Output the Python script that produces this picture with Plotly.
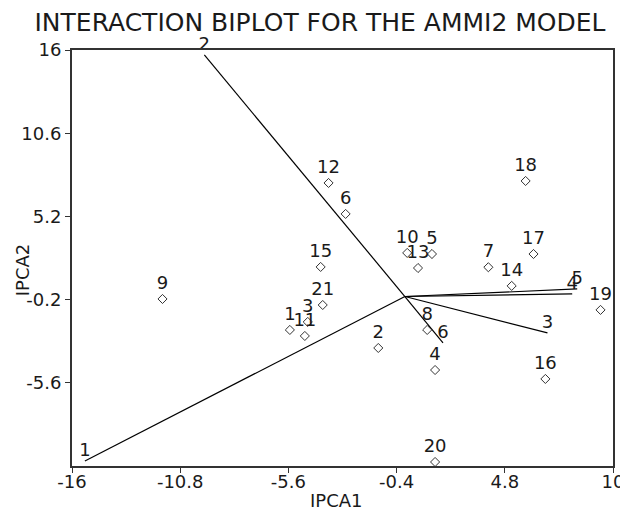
import plotly.graph_objects as go

# Environment vectors (IPCA1, IPCA2 end points)
env_labels = ["1", "2", "3", "4", "5", "6"]
env_ipca1 = [-15.38, -9.64, 6.85, 8.04, 8.28, 1.83]
env_ipca2 = [-10.67, 15.68, -2.36, 0.17, 0.49, -3.01]

# Genotype scores
gen_labels = [str(i) for i in range(1, 22)]
gen_ipca1 = [-5.53, -1.28, -4.67, 1.45, 1.30, -2.85, 4.01, 1.07, -11.65, 0.11,
             -4.81, -3.67, 0.63, 5.13, -4.05, 6.75, 6.18, 5.80, 9.40, 1.45, -3.95]
gen_ipca2 = [-2.17, -3.34, -1.65, -4.77, 2.76, 5.36, 1.90, -2.17, -0.16, 2.83,
             -2.56, 7.37, 1.85, 0.69, 1.92, -5.35, 2.76, 7.50, -0.87, -10.74, -0.55]

x_ticks = [-16, -10.8, -5.6, -0.4, 4.8, 10]
y_ticks = [-5.6, -0.2, 5.2, 10.6, 16]

FONT = "DejaVu Sans, Verdana, sans-serif"
INK = "#1a1a1a"

fig = go.Figure()

# vectors from origin
for ex, ey in zip(env_ipca1, env_ipca2):
    fig.add_trace(go.Scatter(x=[0, ex], y=[0, ey], mode="lines",
                             line=dict(color="black", width=1.2),
                             hoverinfo="skip", showlegend=False))

fig.add_trace(go.Scatter(x=env_ipca1, y=env_ipca2, mode="text", text=env_labels,
                         textposition="top center",
                         textfont=dict(family=FONT, size=18, color=INK),
                         showlegend=False, cliponaxis=False))

fig.add_trace(go.Scatter(x=gen_ipca1, y=gen_ipca2, mode="markers+text",
                         text=gen_labels, textposition="top center",
                         marker=dict(symbol="diamond-open", size=7,
                                     color="#333333", line=dict(width=1)),
                         textfont=dict(family=FONT, size=18, color=INK),
                         showlegend=False, cliponaxis=False))

axis_common = dict(showgrid=False, zeroline=False, showline=True, mirror=True,
                   linecolor="#333333", linewidth=2, ticks="outside", ticklen=5,
                   tickcolor="#333333",
                   tickfont=dict(family=FONT, size=18, color=INK))

fig.update_xaxes(range=[-16, 10], tickvals=x_ticks, ticklabelstandoff=-7,
                 ticktext=[f"{v:g}" for v in x_ticks], **axis_common)
fig.update_yaxes(range=[-11, 16], tickvals=y_ticks,
                 ticktext=[f"{v:g}" for v in y_ticks], **axis_common)

# the page body adds an 8px offset; margins compensate so the plot lands at
# x 72..616, y 50..466 in the window
fig.update_layout(
    width=628, height=512,
    margin=dict(l=64, r=20, t=42, b=54),
    plot_bgcolor="white", paper_bgcolor="white",
    title=dict(text="INTERACTION BIPLOT FOR THE AMMI2 MODEL",
               font=dict(family=FONT, size=25, color=INK),
               x=(320 - 8) / 628, xanchor="center", xref="container",
               y=1 - 14 / 512, yanchor="middle", yref="container"),
    annotations=[
        dict(text="IPCA1", xref="paper", yref="paper", x=(338 - 72) / 544,
             y=-(500 - 466) / 416, showarrow=False, xanchor="center",
             yanchor="middle", font=dict(family=FONT, size=18, color=INK)),
        dict(text="IPCA2", xref="paper", yref="paper", x=-(72 - 22) / 544,
             y=(466 - 270) / 416, showarrow=False, textangle=-90,
             xanchor="center", yanchor="middle",
             font=dict(family=FONT, size=18, color=INK)),
    ],
)

fig.write_html("out.html")
